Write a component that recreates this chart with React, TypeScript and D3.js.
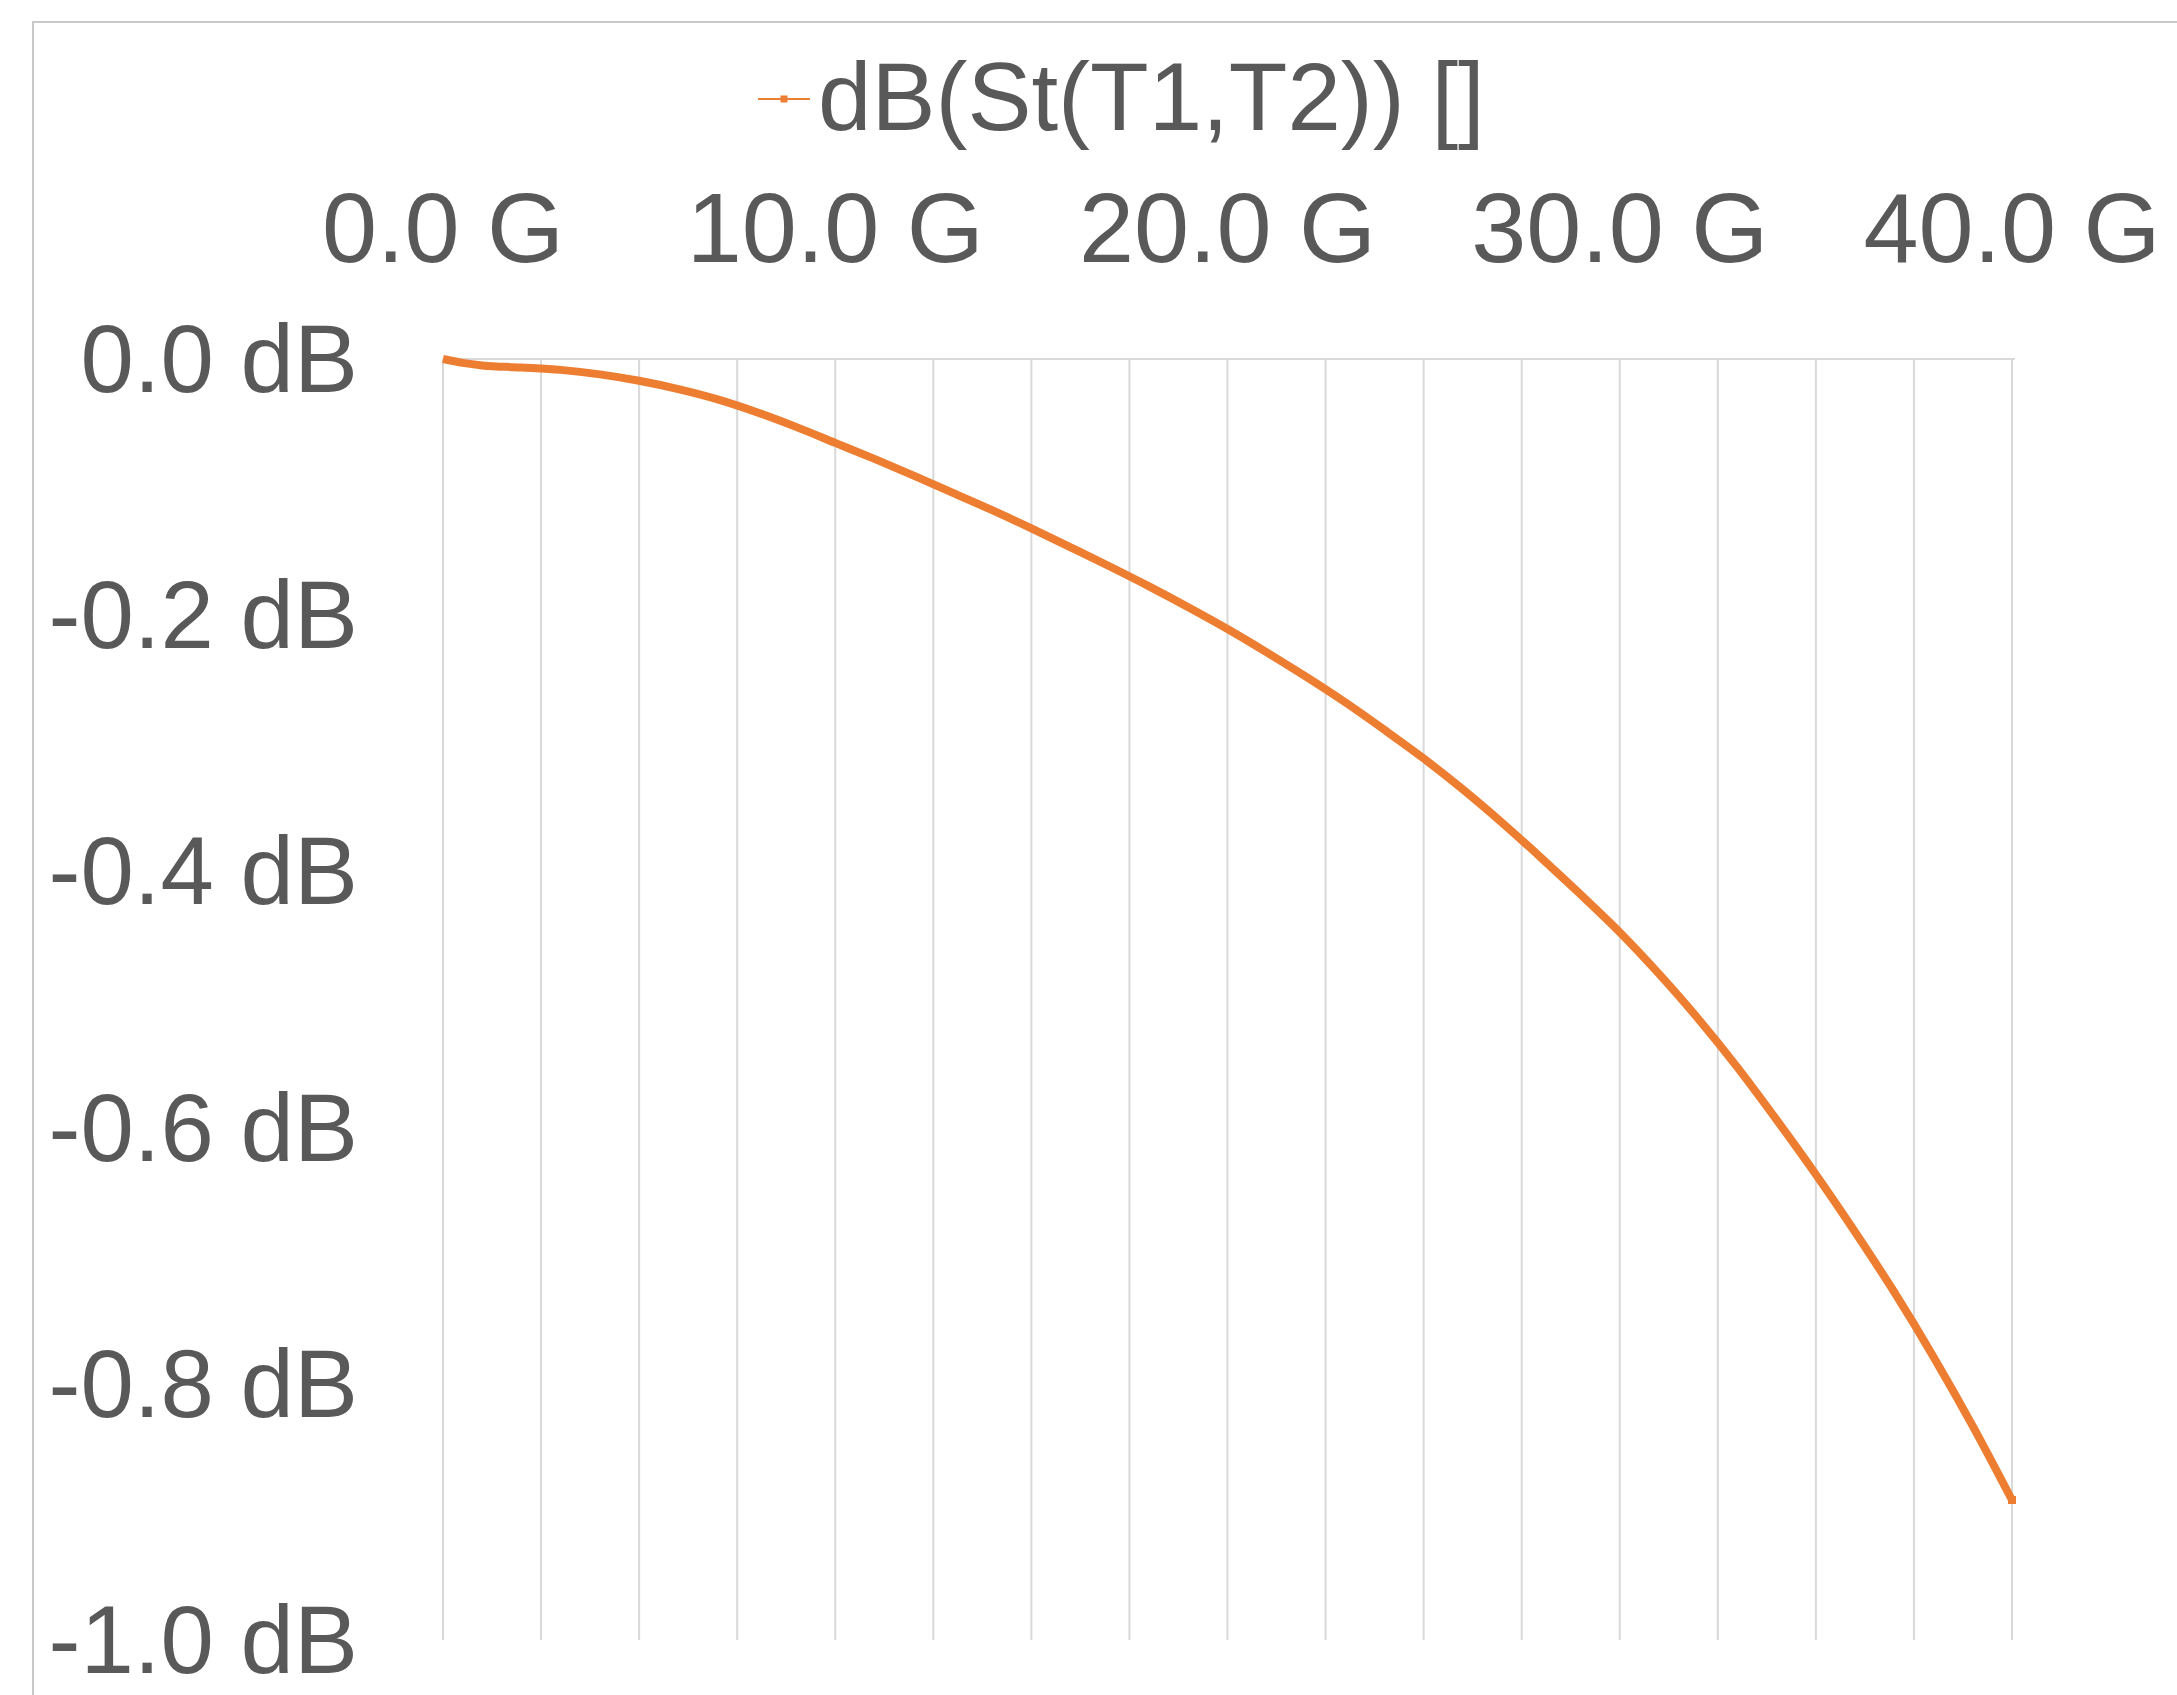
import React from "react";
import * as d3 from "d3";

// frequency in GHz, insertion loss in dB
const freqs = [
  0, 0.5, 1, 2, 3, 4, 5, 6, 7, 8, 9, 10, 11, 12, 13, 14, 15, 16, 17, 18, 19, 20,
  21, 22, 23, 24, 25, 26, 27, 28, 29, 30, 31, 32, 33, 34, 35, 36, 37, 38, 39, 40,
];
const lossDb = [
  0, -0.003, -0.005, -0.0066, -0.0085, -0.012, -0.017, -0.0235, -0.0315, -0.0415,
  -0.053, -0.0655, -0.078, -0.091, -0.1045, -0.118, -0.1322, -0.147, -0.162,
  -0.1775, -0.1938, -0.2108, -0.229, -0.248, -0.268, -0.2895, -0.3118, -0.336,
  -0.362, -0.3895, -0.418, -0.4475, -0.48, -0.515, -0.553, -0.594, -0.6366,
  -0.6815, -0.7285, -0.779, -0.833, -0.8907,
];
const xLabels = [0, 10, 20, 30, 40];
const xGrid = d3.range(0, 40.001, 2.5);
const yTicks = [0, -0.2, -0.4, -0.6, -0.8, -1.0];
const seriesName = "dB(St(T1,T2)) []";

const W = 2177;
const H = 1695;
const ORANGE = "#ED7D31";
const TEXT = "#595959";
const GRID = "#D9D9D9";
const FONT = "'Liberation Sans', Arial, sans-serif";

export default function App() {
  const x = d3.scaleLinear().domain([0, 40]).range([443, 2012]);
  const y = d3.scaleLinear().domain([0, -1]).range([359, 1640]);

  const data = freqs.map((f, i) => ({ f, v: lossDb[i] }));
  const line = d3
    .line<{ f: number; v: number }>()
    .x((d) => x(d.f))
    .y((d) => y(d.v))
    .curve(d3.curveMonotoneX);
  const last = data[data.length - 1];

  return (
    <svg
      width={W}
      height={H}
      style={{ position: "absolute", left: 0, top: 0, background: "#fff" }}
    >
      {/* chart area border */}
      <path d={`M33,${H + 5} V22 H${W + 5}`} fill="none" stroke="#C9C9C9" strokeWidth={2} />

      {/* vertical gridlines */}
      {xGrid.map((g) => (
        <line key={g} x1={x(g)} x2={x(g)} y1={y(0)} y2={y(-1)} stroke={GRID} strokeWidth={2} />
      ))}
      {/* horizontal axis line at 0 dB */}
      <line x1={x(0)} x2={x(40) + 3} y1={y(0)} y2={y(0)} stroke={GRID} strokeWidth={2} />

      {/* x labels */}
      {xLabels.map((g) => (
        <text
          key={g}
          x={x(g)}
          y={262}
          textAnchor="middle"
          fontFamily={FONT}
          fontSize={99}
          fill={TEXT}
        >
          {`${g.toFixed(1)} G`}
        </text>
      ))}

      {/* y labels */}
      {yTicks.map((t) => (
        <text
          key={t}
          x={358}
          y={y(t) + 33}
          textAnchor="end"
          fontFamily={FONT}
          fontSize={96}
          fill={TEXT}
        >
          {`${t.toFixed(1)} dB`}
        </text>
      ))}

      {/* series */}
      <path
        d={line(data) ?? ""}
        fill="none"
        stroke={ORANGE}
        strokeWidth={8}
        strokeLinejoin="round"
      />
      <rect x={x(last.f) - 4} y={y(last.v) - 4} width={8} height={8} fill={ORANGE} />

      {/* legend */}
      <line x1={758} x2={810} y1={99} y2={99} stroke={ORANGE} strokeWidth={2} />
      <rect x={780.5} y={95.5} width={7} height={7} fill={ORANGE} />
      <text x={818} y={130} fontFamily={FONT} fontSize={96} fill={TEXT}>
        {seriesName}
      </text>
    </svg>
  );
}
